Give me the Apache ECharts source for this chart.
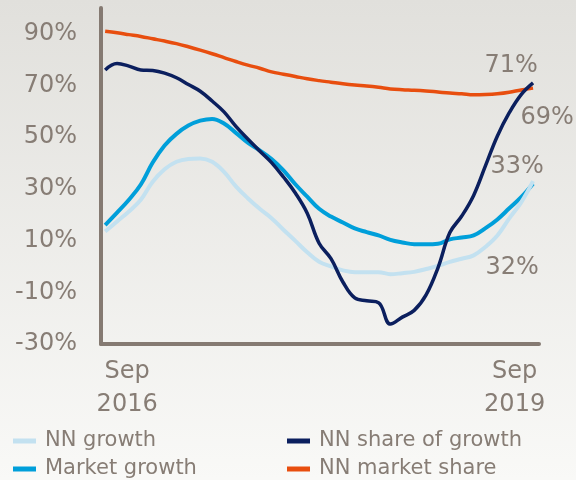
<!DOCTYPE html>
<html>
<head>
<meta charset="utf-8">
<script src="https://cdn.jsdelivr.net/npm/echarts@6/dist/echarts.min.js"></script>
<style>
  html, body { margin: 0; padding: 0; }
  #chart { width: 576px; height: 480px; }
</style>
</head>
<body>
<div id="chart"></div>
<script>
// monthly, Sep 2016 .. Sep 2019
const xLabels = ['Sep\n2016', 'Sep\n2019'];
const yTicks = [-30, -10, 10, 30, 50, 70, 90];

const nnGrowth = [13.5, 17.4, 21.3, 25.8, 32.8, 37.6, 40.5, 41.6, 41.8, 40.5, 36.6, 31.0, 26.4,
  22.3, 18.7, 14.2, 9.9, 5.5, 1.8, 0.0, -1.5, -2.2, -2.2, -2.2, -3.0, -2.6, -2.1, -1.0, 0.2,
  1.8, 3.0, 4.3, 7.6, 12.0, 18.6, 24.8, 33];
const marketGrowth = [16.0, 20.8, 25.8, 31.7, 40.2, 46.8, 51.3, 54.5, 56.4, 57.1, 55.3, 51.7, 47.9,
  44.9, 41.6, 37.2, 31.8, 27.0, 22.3, 19.3, 17.0, 14.7, 13.3, 12.0, 10.3, 9.3, 8.6, 8.6, 8.8,
  10.5, 11.2, 12.0, 14.8, 18.2, 22.5, 26.8, 32];
const nnShareOfGrowth = [76.0, 78.5, 77.5, 76.0, 75.8, 74.8, 73.0, 70.4, 67.8, 64.0, 59.8, 54.2, 49.3,
  44.7, 40.2, 34.6, 28.4, 20.6, 9.0, 3.0, -6.0, -12.2, -13.3, -14.0, -22.3, -19.6, -17.0, -11.0, -0.5,
  13.1, 19.5, 27.5, 39.0, 50.5, 59.5, 66.5, 71];
const nnMarketShare = [91.0, 90.4, 89.7, 89.0, 88.1, 87.2, 86.2, 85.0, 83.7, 82.3, 80.8, 79.3, 77.9,
  76.7, 75.3, 74.4, 73.5, 72.6, 71.9, 71.3, 70.7, 70.2, 69.8, 69.3, 68.7, 68.4, 68.2, 67.9, 67.5,
  67.1, 66.8, 66.4, 66.5, 66.8, 67.4, 68.3, 69];

const chart = echarts.init(document.getElementById('chart'));
const textColor = '#877d75';
const font = 'DejaVu Sans';

const pairs = arr => arr.map((v, i) => [i, v]);

// 线条 + 末端标签
const makeLine = (name, data, color, width, offset) => ({
  name: name,
  type: 'line',
  smooth: 0.4,
  symbol: 'none',
  lineStyle: { color: color, width: width },
  itemStyle: { color: color },
  data: pairs(data),
  endLabel: {
    show: true,
    formatter: p => Math.round(p.value[1]) + '%',
    color: textColor,
    fontFamily: font,
    fontSize: 24,
    distance: 0,
    align: 'center',
    verticalAlign: 'middle',
    offset: offset
  }
});

const option = {
  animation: false,
  backgroundColor: {
    type: 'linear', x: 0, y: 0, x2: 0, y2: 1,
    colorStops: [{ offset: 0, color: '#e1e0dc' }, { offset: 1, color: '#f9f9f7' }]
  },
  grid: { left: 101, right: 37, top: 8, bottom: 136, containLabel: false },
  legend: [{
    orient: 'vertical',
    left: 13, top: 430, padding: 0,
    itemWidth: 23, itemHeight: 5, itemGap: 6,
    icon: 'rect',
    data: ['NN growth', 'Market growth'],
    textStyle: { color: textColor, fontFamily: font, fontSize: 21, lineHeight: 22, padding: [0, 0, 0, 4] }
  }, {
    orient: 'vertical',
    left: 287, top: 430, padding: 0,
    itemWidth: 23, itemHeight: 5, itemGap: 6,
    icon: 'rect',
    data: ['NN share of growth', 'NN market share'],
    textStyle: { color: textColor, fontFamily: font, fontSize: 21, lineHeight: 22, padding: [0, 0, 0, 4] }
  }],
  xAxis: {
    type: 'value',
    min: -0.35,
    max: 36.5,
    splitLine: { show: false },
    axisTick: { show: false },
    axisLine: { show: true, onZero: false, lineStyle: { color: '#857a72', width: 4 } },
    axisLabel: {
      customValues: [1.85, 34.45],
      formatter: (v) => v < 18 ? xLabels[0] : xLabels[1],
      color: textColor,
      fontFamily: font,
      fontSize: 24,
      lineHeight: 33,
      margin: 11
    }
  },
  yAxis: {
    type: 'value',
    min: -30,
    max: 100,
    splitLine: { show: false },
    axisTick: { show: false },
    axisLine: { show: true, onZero: false, lineStyle: { color: '#857a72', width: 4 } },
    axisLabel: {
      customValues: yTicks,
      formatter: v => v + '%',
      color: textColor,
      fontFamily: font,
      fontSize: 24,
      margin: 24
    }
  },
  series: [
    makeLine('Market growth', marketGrowth, '#009fda', 4, [-21, 84]),
    makeLine('NN growth', nnGrowth, '#c3e1f0', 4, [-16, -14]),
    makeLine('NN market share', nnMarketShare, '#e84e0f', 3.5, [14, 30]),
    makeLine('NN share of growth', nnShareOfGrowth, '#0b1f5e', 3.5, [-22, -17])
  ]
};

chart.setOption(option);
</script>
</body>
</html>
